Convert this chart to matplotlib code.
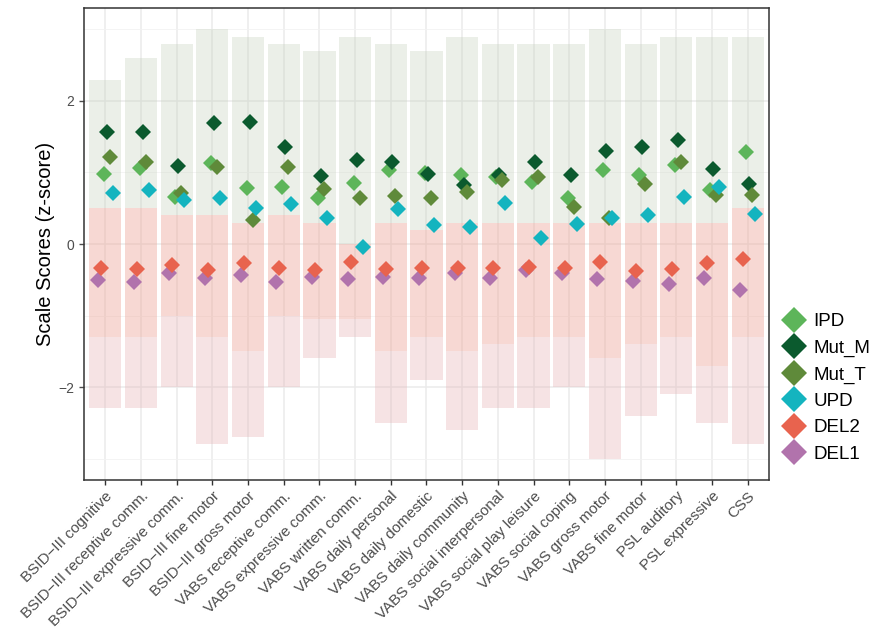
import matplotlib
matplotlib.use("Agg")
import matplotlib.pyplot as plt
from matplotlib.lines import Line2D
import numpy as np

plt.rcParams['font.family'] = ['Liberation Sans', 'DejaVu Sans']

categories = ["BSID−III cognitive", "BSID−III receptive comm.", "BSID−III expressive comm.",
              "BSID−III fine motor", "BSID−III gross motor", "VABS receptive comm.",
              "VABS expressive comm.", "VABS written comm.", "VABS daily personal",
              "VABS daily domestic", "VABS daily community", "VABS social interpersonal",
              "VABS social play leisure", "VABS social coping", "VABS gross motor",
              "VABS fine motor", "PSL auditory", "PSL expressive", "CSS"]

groups = ["DEL1", "DEL2", "IPD", "Mut_M", "Mut_T", "UPD"]
colors = {"IPD": "#5DB55A", "Mut_M": "#0B5A2E", "Mut_T": "#5F8A3A",
          "UPD": "#14B4BF", "DEL2": "#E8634E", "DEL1": "#B173AC"}

# group means (z-scores) per scale
IPD   = [0.98, 1.06, 0.66, 1.13, 0.78, 0.80, 0.65, 0.85, 1.04, 0.99, 0.97, 0.94, 0.86, 0.64, 1.03, 0.97, 1.10, 0.75, 1.28]
Mut_M = [1.57, 1.57, 1.09, 1.69, 1.71, 1.35, 0.95, 1.17, 1.15, 0.98, 0.82, 0.97, 1.14, 0.96, 1.30, 1.36, 1.46, 1.05, 0.84]
Mut_T = [1.22, 1.15, 0.72, 1.07, 0.33, 1.07, 0.77, 0.65, 0.67, 0.65, 0.73, 0.89, 0.93, 0.52, 0.36, 0.84, 1.15, 0.68, 0.69]
UPD   = [0.71, 0.76, 0.62, 0.64, 0.51, 0.56, 0.37, -0.04, 0.49, 0.27, 0.24, 0.58, 0.08, 0.28, 0.37, 0.40, 0.66, 0.80, 0.42]
DEL2  = [-0.34, -0.35, -0.29, -0.36, -0.26, -0.33, -0.37, -0.25, -0.35, -0.33, -0.33, -0.34, -0.32, -0.34, -0.25, -0.38, -0.35, -0.26, -0.21]
DEL1  = [-0.50, -0.53, -0.41, -0.48, -0.43, -0.53, -0.46, -0.49, -0.46, -0.47, -0.41, -0.47, -0.36, -0.40, -0.49, -0.52, -0.56, -0.47, -0.65]

# extent of the individual-score clouds, read per scale
del_tail_lo = [-2.3, -2.3, -2.0, -2.8, -2.7, -2.0, -1.6, -1.3, -2.5, -1.9, -2.6, -2.3, -2.3, -2.0, -3.0, -2.4, -2.1, -2.5, -2.8]
del_core_lo = [-1.3, -1.3, -1.0, -1.3, -1.5, -1.0, -1.05, -1.05, -1.5, -1.3, -1.5, -1.4, -1.3, -1.3, -1.6, -1.4, -1.3, -1.7, -1.3]
del_core_hi = [0.5, 0.5, 0.4, 0.4, 0.3, 0.4, 0.3, 0.0, 0.3, 0.2, 0.3, 0.3, 0.3, 0.3, 0.3, 0.3, 0.3, 0.3, 0.5]
other_hi    = [2.3, 2.6, 2.8, 3.0, 2.9, 2.8, 2.7, 2.9, 2.8, 2.7, 2.9, 2.8, 2.8, 2.8, 3.0, 2.8, 2.9, 2.9, 2.9]

means = {"IPD": IPD, "Mut_M": Mut_M, "Mut_T": Mut_T, "UPD": UPD, "DEL2": DEL2, "DEL1": DEL1}

fig = plt.figure(figsize=(8.87, 6.31), dpi=100)
ax = fig.add_axes([84/887, 151/631, 685/887, 472/631])

x = np.arange(1, len(categories) + 1)

# clouds of individual scores (shown as translucent bands)
tail_lo = np.array(del_tail_lo); core_lo = np.array(del_core_lo); core_hi = np.array(del_core_hi)
top = np.array(other_hi)
ax.bar(x, core_lo - tail_lo, bottom=tail_lo, width=0.9, color="#E6B0B4", alpha=0.35, linewidth=0, zorder=1)
ax.bar(x, core_hi - core_lo, bottom=core_lo, width=0.9, color="#EDA496", alpha=0.42, linewidth=0, zorder=1)
ax.bar(x, top - core_hi, bottom=core_hi, width=0.9, color="#BFCDB6", alpha=0.30, linewidth=0, zorder=1)

# dodged means
dodge = 0.5 / len(groups)
for i, g in enumerate(groups):
    off = (i - (len(groups) - 1) / 2) * dodge
    ax.plot(x + off, means[g], linestyle="none", marker="D", markersize=8.5,
            color=colors[g], markeredgewidth=0, zorder=3)

ax.set_xlim(0.4, len(categories) + 0.6)
ax.set_ylim(-3.3, 3.3)
ax.set_yticks([-2, 0, 2])
ax.set_yticklabels(["−2", "0", "2"])
ax.set_yticks([-3, -1, 1, 3], minor=True)
ax.set_xticks(x)
ax.set_xticklabels(categories, rotation=45, ha="right", rotation_mode="anchor", fontsize=11, color="#4D4D4D")
ax.tick_params(axis="y", labelsize=10, colors="#4D4D4D", length=3.5, width=1)
ax.tick_params(axis="x", length=3.5, width=1, color="#333333", pad=3)
ax.tick_params(axis="y", which="minor", length=0)
ax.grid(True, which="major", color="#EBEBEB", linewidth=1.1, zorder=0)
ax.grid(True, which="minor", axis="y", color="#F2F2F2", linewidth=0.6, zorder=0)
ax.set_axisbelow(True)
for s in ax.spines.values():
    s.set_color("#333333")
    s.set_linewidth(1.1)
ax.set_ylabel("Scale Scores (z-score)", fontsize=14.5, labelpad=2)

order = ["IPD", "Mut_M", "Mut_T", "UPD", "DEL2", "DEL1"]
handles = [Line2D([], [], linestyle="none", marker="D", markersize=13, color=colors[g], markeredgewidth=0)
           for g in order]
fig.legend(handles, order, loc="center left", bbox_to_anchor=(762/887, 1 - 388/631), frameon=False,
           fontsize=13.5, handletextpad=0.25, labelspacing=0.5, handlelength=1.6)

fig.savefig("out.png", dpi=100)
